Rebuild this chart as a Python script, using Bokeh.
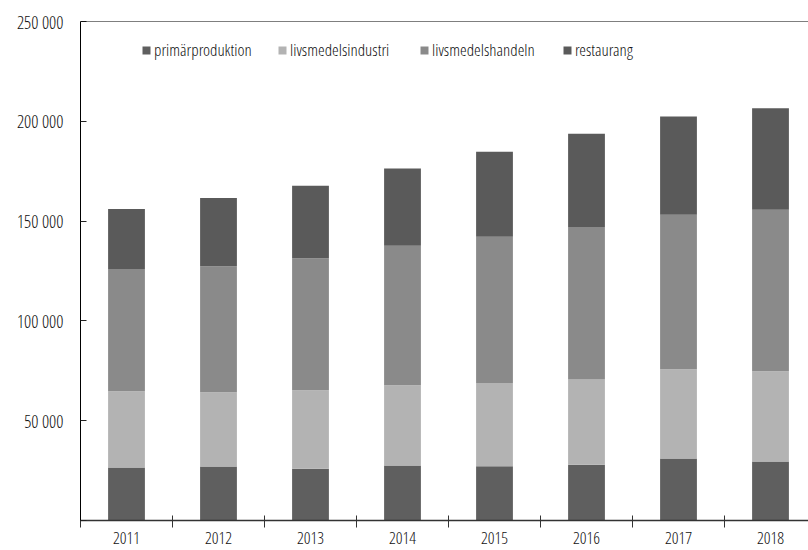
from bokeh.plotting import figure
from bokeh.models import (ColumnDataSource, Legend, LegendItem, FixedTicker, Range1d, Span, LinearAxis)
from bokeh.embed import file_html
from bokeh.resources import INLINE

years = ["2011", "2012", "2013", "2014", "2015", "2016", "2017", "2018"]
primarproduktion = [26500, 27000, 25900, 27500, 27200, 27900, 31000, 29500]
livsmedelsindustri = [38200, 37200, 39300, 40200, 41700, 42700, 44800, 45300]
livsmedelshandeln = [61300, 63200, 66200, 69900, 73200, 76500, 77400, 80900]
restaurang = [30000, 34200, 36300, 38800, 42700, 46600, 49200, 50900]
series_names = ["primärproduktion", "livsmedelsindustri", "livsmedelshandeln", "restaurang"]
series_keys = ["prim", "ind", "handel", "rest"]
colors = ["#5f5f5f", "#b3b3b3", "#8a8a8a", "#5a5a5a"]
y_ticks = [0, 50000, 100000, 150000, 200000, 250000]
y_tick_labels = ["", "50 000", "100 000", "150 000", "200 000", "250 000"]

FONT = "Open Sans Condensed Light, DejaVu Sans Condensed"
TXT = "#111111"

pos = [i + 0.5 for i in range(len(years))]
src = ColumnDataSource(dict(x=pos, prim=primarproduktion, ind=livsmedelsindustri,
                            handel=livsmedelshandeln, rest=restaurang))

p = figure(width=808, height=546, output_backend="svg", toolbar_location=None,
           x_range=Range1d(0, 7.913), y_range=Range1d(0, 250000),
           min_border_left=80, min_border_right=0, min_border_top=21, min_border_bottom=0,
           x_axis_type=None)
p.outline_line_color = None
p.grid.visible = False
p.background_fill_color = "white"
p.border_fill_color = "white"

rs = p.vbar_stack(series_keys, x="x", width=0.4, source=src, color=colors, line_color=None)

xaxis = LinearAxis()
xaxis.ticker = FixedTicker(ticks=pos, minor_ticks=list(range(len(years) + 1)))
xaxis.major_label_overrides = {p_: y for p_, y in zip(pos, years)}
xaxis.major_tick_line_color = None
xaxis.major_tick_in = 0
xaxis.major_tick_out = 7
xaxis.minor_tick_line_color = "#333333"
xaxis.minor_tick_in = 5
xaxis.minor_tick_out = 7
xaxis.axis_line_color = "#333333"
xaxis.axis_line_width = 1.5
xaxis.major_label_text_font = FONT
xaxis.major_label_text_font_size = "17px"
xaxis.major_label_text_color = TXT
xaxis.major_label_standoff = 4
p.add_layout(xaxis, "below")

ya = p.yaxis[0]
ya.ticker = FixedTicker(ticks=y_ticks)
ya.major_label_overrides = {t: l for t, l in zip(y_ticks, y_tick_labels)}
ya.minor_tick_line_color = None
ya.major_tick_in = 6
ya.major_tick_out = 0
ya.major_tick_line_color = "#222222"
ya.axis_line_color = "#000000"
ya.major_label_text_font = FONT
ya.major_label_text_font_size = "18px"
ya.major_label_text_color = TXT
ya.major_label_standoff = 17

p.add_layout(Span(location=250000, dimension="width", line_color="#000000", line_width=1))

legend_offsets = [61, 197, 339, 482]
for n, r, off in zip(series_names, rs, legend_offsets):
    lg = Legend(items=[LegendItem(label=n, renderers=[r])],
                orientation="horizontal", location=(off, 459),
                padding=0, margin=0, spacing=0, label_standoff=3,
                glyph_width=10, glyph_height=10, label_height=20,
                label_text_font=FONT, label_text_font_size="17px", label_text_color=TXT,
                border_line_color=None, background_fill_alpha=0)
    p.add_layout(lg, "center")

open("out.html", "w").write(file_html(p, INLINE))
